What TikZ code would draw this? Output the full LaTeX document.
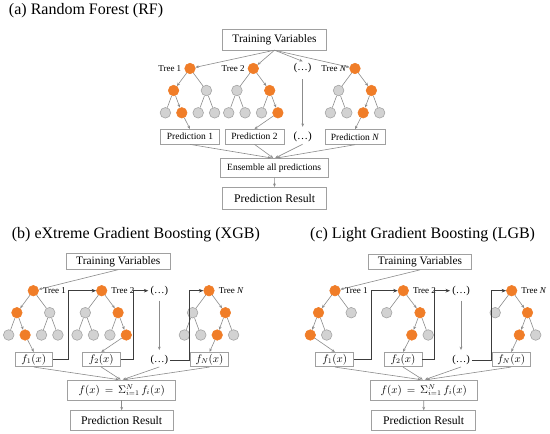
\documentclass[tikz,border=0pt]{standalone}
\usepackage{fontspec}
\setmainfont{Liberation Serif}
\usetikzlibrary{arrows.meta}
\definecolor{orng}{RGB}{240,125,40}
\definecolor{gfill}{RGB}{210,210,210}
\definecolor{gline}{RGB}{165,165,165}
\definecolor{lnc}{RGB}{140,140,140}
\definecolor{boxc}{RGB}{160,160,160}
\definecolor{dk}{RGB}{60,60,60}
\tikzset{
 no/.style={circle,fill=orng,draw=orng,minimum size=10.6pt,inner sep=0pt,line width=0.5pt},
 ng/.style={circle,fill=gfill,draw=gline,minimum size=10.6pt,inner sep=0pt,line width=0.6pt},
 eo/.style={draw=lnc,line width=0.6pt,-{Stealth[length=3.4pt,width=2.8pt]}},
 eg/.style={draw=lnc,line width=0.6pt},
 boost/.style={draw=dk,line width=0.9pt,-{Stealth[length=4.5pt,width=3.6pt]}},
 box/.style={draw=boxc,line width=0.7pt,fill=white,inner sep=0pt,text=black},
 ttl/.style={font=\fontsize{16}{19}\selectfont,inner sep=0pt},
 fsA/.style={font=\fontsize{11.4}{13}\selectfont},
 fsR/.style={font=\fontsize{11.7}{13}\selectfont},
 fsP/.style={font=\fontsize{9.5}{11}\selectfont},
 fsM/.style={font=\fontsize{10.5}{12}\selectfont},
 tlab/.style={font=\fontsize{9}{10}\selectfont,inner sep=0pt},
 dots/.style={font=\fontsize{10.5}{12}\selectfont,inner sep=2pt},
}
\newcommand\lvltree[9]{%
 \node[no] (#1) at (#2,#3) {};
 \node[n#4] (#1a) at (#2-16.4,#3+22) {};
 \node[n#5] (#1b) at (#2+16.4,#3+22) {};
 \node[n#6] (#1aa) at (#2-24.6,#3+44.3) {};
 \node[n#7] (#1ab) at (#2-8.2,#3+44.3) {};
 \node[n#8] (#1ba) at (#2+8.2,#3+44.3) {};
 \node[n#9] (#1bb) at (#2+24.6,#3+44.3) {};
 \draw[e#4] (#1)--(#1a); \draw[e#5] (#1)--(#1b);
 \draw[e#6] (#1a)--(#1aa); \draw[e#7] (#1a)--(#1ab);
 \draw[e#8] (#1b)--(#1ba); \draw[e#9] (#1b)--(#1bb);}
\newcommand\lftree[5]{%
 \node[no] (#1) at (#2,#3) {};
 \node[no] (#1o) at (#4,#3+22) {};
 \node[ng] (#1g) at (#5,#3+22) {};
 \node[no] (#1oo) at (#4-8.2,#3+44.3) {};
 \node[ng] (#1og) at (#4+8.2,#3+44.3) {};
 \draw[eo] (#1)--(#1o); \draw[eg] (#1)--(#1g);
 \draw[eo] (#1o)--(#1oo); \draw[eg] (#1o)--(#1og);}
\begin{document}
\begin{tikzpicture}[x=1pt,y=-1pt]
\useasboundingbox[fill=white] (0,0) rectangle (550,434);
% ---------------- (a) ----------------
\node[ttl,anchor=base west] (ta) at (8.8,14.5) {(a) Random Forest (RF)};
\node[box,minimum width=104pt,minimum height=20.7pt,fsA] (tva) at (274.5,39.5) {Training Variables};
\lvltree{aT1}{190}{68.5}{o}{g}{g}{o}{g}{g}
\lvltree{aT2}{253.3}{68.5}{g}{o}{g}{g}{g}{o}
\lvltree{aTN}{355}{68.5}{g}{o}{g}{g}{o}{g}
\node[tlab,anchor=east] (aL1) at ([xshift=-3pt]aT1.west) {Tree 1};
\node[tlab,anchor=east] (aL2) at ([xshift=-3pt]aT2.west) {Tree 2};
\node[tlab,anchor=east] (aLN) at ([xshift=-3pt]aTN.west) {Tree \textit{N}};
\node[dots] (adt) at (302.7,68.3) {(\dots)};
\draw[eo] (tva.south) -- (aT1);
\draw[eo] (tva.south) -- (aT2);
\draw[eo] (tva.south) -- (adt.north);
\draw[eo] (tva.south) -- (aTN);
\node[box,minimum width=59.3pt,minimum height=14.7pt,fsP] (aP1) at (190,136.7) {Prediction 1};
\node[box,minimum width=59pt,minimum height=14.7pt,fsP] (aP2) at (254.5,136.7) {Prediction 2};
\node[dots,font=\fontsize{11}{12}\selectfont] (adb) at (302.7,137) {(\dots)};
\node[box,minimum width=60pt,minimum height=14.7pt,fsP] (aPN) at (355,137) {Prediction \textit{N}};
\draw[eo] (aT1ab) -- (aP1.north);
\draw[eo] (aT2bb) -- (aP2.north);
\draw[eo] (aTNba) -- (aPN.north);
\draw[eo,shorten <=4pt,shorten >=3pt] (adt) -- (adb);
\node[box,minimum width=108.3pt,minimum height=19pt,fsP] (aE) at (274.2,167.8) {Ensemble all predictions};
\draw[eo] (aP1.south) -- ([xshift=-3pt]aE.north);
\draw[eo] (aP2.south) -- ([xshift=-1pt]aE.north);
\draw[eo] (adb.south) -- ([xshift=1pt]aE.north);
\draw[eo] (aPN.south) -- ([xshift=3pt]aE.north);
\node[box,minimum width=104pt,minimum height=21.7pt,fsR] (aR) at (274.7,198.2) {Prediction Result};
\draw[eo] (aE) -- (aR);
% ---------------- (b) ----------------
\node[ttl,anchor=base west] (tb) at (11.7,238) {(b) eXtreme Gradient Boosting (XGB)};
\node[box,minimum width=104.7pt,minimum height=16pt,fsA] (tvb) at (118.3,261.3) {Training Variables};
\lvltree{bT1}{33.3}{290.7}{o}{g}{g}{o}{g}{g}
\lvltree{bT2}{101.7}{290.7}{g}{o}{g}{g}{g}{o}
\lvltree{bTN}{209}{290.7}{g}{o}{g}{g}{o}{g}
\node[tlab,anchor=west] (bL1) at ([xshift=4pt]bT1.east) {Tree 1};
\node[tlab,anchor=west] (bL2) at ([xshift=4pt]bT2.east) {Tree 2};
\node[tlab,anchor=west] (bLN) at ([xshift=4pt]bTN.east) {Tree \textit{N}};
\node[dots] (bdt) at (159.3,290.7) {(\dots)};
\draw[eo] (tvb.south) -- (bT1);
\node[box,minimum width=37.7pt,minimum height=14.4pt,fsM] (bf1) at (33.8,359.5) {$f_1(x)$};
\node[box,minimum width=37.7pt,minimum height=14.4pt,fsM] (bf2) at (101.3,359.5) {$f_2(x)$};
\node[dots] (bdb) at (159.3,360) {(\dots)};
\node[box,minimum width=37.7pt,minimum height=14.4pt,fsM] (bfN) at (209.5,359.5) {$f_N(x)$};
\draw[eo] (bT1ab) -- (bf1.north);
\draw[eo] (bT2bb) -- (bf2.north);
\draw[eo] (bTNba) -- (bfN.north);
\draw[eo,shorten <=3pt,shorten >=3pt] (bdt) -- (bdb);
\draw[boost] (bf1.east) -- ++(15.6,0) |- (bT2);
\draw[boost] (bf2.east) -- ++(12.6,0) |- (bdt);
\draw[boost] (bdb.east) -- ++(19.3,0) |- (bTN);
\node[box,minimum width=108pt,minimum height=20pt,fsM] (bF) at (121.7,390) {$f(x)\,=\,\Sigma_{i=1}^{N}\, f_i(x)$};
\draw[eo] (bf1.south) -- ([xshift=-3pt]bF.north);
\draw[eo] (bf2.south) -- ([xshift=-1pt]bF.north);
\draw[eo] (bdb.south) -- ([xshift=1pt]bF.north);
\draw[eo] (bfN.south) -- ([xshift=3pt]bF.north);
\node[box,minimum width=103.3pt,minimum height=19.3pt,fsR] (bR) at (121.7,420.3) {Prediction Result};
\draw[eo] (bF) -- (bR);
% ---------------- (c) ----------------
\node[ttl,anchor=base west] (tc) at (310,238) {(c) Light Gradient Boosting (LGB)};
\node[box,minimum width=103.4pt,minimum height=15.6pt,fsA] (tvc) at (420,261.7) {Training Variables};
\lftree{cT1}{335}{290.7}{318.5}{351.2}
\lftree{cT2}{403.3}{290.7}{420}{386.7}
\lftree{cTN}{511.7}{290.7}{527.5}{495.2}
\node[tlab,anchor=west] (cL1) at ([xshift=4pt]cT1.east) {Tree 1};
\node[tlab,anchor=west] (cL2) at ([xshift=4pt]cT2.east) {Tree 2};
\node[tlab,anchor=west] (cLN) at ([xshift=4pt]cTN.east) {Tree \textit{N}};
\node[dots] (cdt) at (461,290.7) {(\dots)};
\draw[eo] (tvc.south) -- (cT1);
\node[box,minimum width=38pt,minimum height=14.4pt,fsM] (cf1) at (334.8,359.5) {$f_1(x)$};
\node[box,minimum width=38pt,minimum height=14.4pt,fsM] (cf2) at (403,359.5) {$f_2(x)$};
\node[dots] (cdb) at (461,360) {(\dots)};
\node[box,minimum width=38pt,minimum height=14.4pt,fsM] (cfN) at (511.2,359.5) {$f_N(x)$};
\draw[eo] (cT1oo) -- (cf1.north);
\draw[eo] (cT2oo) -- (cf2.north);
\draw[eo] (cTNoo) -- (cfN.north);
\draw[eo,shorten <=3pt,shorten >=3pt] (cdt) -- (cdb);
\draw[boost] (cf1.east) -- ++(17.2,0) |- (cT2);
\draw[boost] (cf2.east) -- ++(12.3,0) |- (cdt);
\draw[boost] (cdb.east) -- ++(19.5,0) |- (cTN);
\node[box,minimum width=107.7pt,minimum height=20pt,fsM] (cF) at (423.8,390) {$f(x)\,=\,\Sigma_{i=1}^{N}\, f_i(x)$};
\draw[eo] (cf1.south) -- ([xshift=-3pt]cF.north);
\draw[eo] (cf2.south) -- ([xshift=-1pt]cF.north);
\draw[eo] (cdb.south) -- ([xshift=1pt]cF.north);
\draw[eo] (cfN.south) -- ([xshift=3pt]cF.north);
\node[box,minimum width=104pt,minimum height=19.3pt,fsR] (cR) at (423.7,420.3) {Prediction Result};
\draw[eo] (cF) -- (cR);
\end{tikzpicture}
\end{document}
